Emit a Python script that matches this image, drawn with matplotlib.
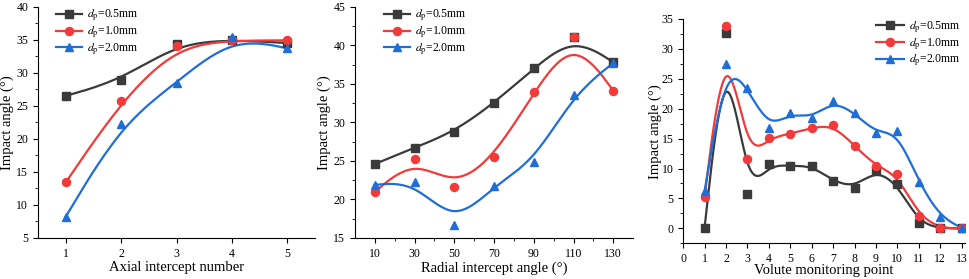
import numpy as np
import matplotlib
matplotlib.use("Agg")
from matplotlib import pyplot as plt
from matplotlib.ticker import MultipleLocator

# panel (a): axial intercept number
axial_x = [1, 2, 3, 4, 5]
axial_05 = [26.5, 28.9, 34.4, 35.0, 34.5]
axial_10 = [13.4, 25.7, 34.0, 34.9, 34.9]
axial_20 = [8.2, 22.2, 28.5, 35.4, 33.7]

# panel (b): radial intercept angle
radial_x = [10, 30, 50, 70, 90, 110, 130]
radial_05 = [24.6, 26.7, 28.8, 32.5, 37.0, 41.1, 37.8]
radial_10 = [21.0, 25.3, 21.6, 25.5, 33.9, 41.1, 34.1]
radial_20 = [21.9, 22.3, 16.7, 21.8, 24.9, 33.6, 37.7]

# panel (c): volute monitoring point
volute_x = list(range(1, 14))
volute_05 = [0.1, 32.7, 5.7, 10.7, 10.4, 10.5, 7.9, 6.8, 9.8, 7.4, 0.9, 0.0, 0.0]
volute_10 = [5.3, 33.8, 11.6, 15.1, 15.8, 16.8, 17.3, 13.8, 10.4, 9.0, 2.1, 0.0, 0.0]
volute_20 = [6.2, 27.5, 23.5, 16.7, 19.3, 18.4, 21.3, 19.3, 15.9, 16.2, 7.7, 1.9, 0.1]

labels = [r"$d_\mathrm{p}$=0.5mm", r"$d_\mathrm{p}$=1.0mm", r"$d_\mathrm{p}$=2.0mm"]
colors = ["#3a3a3a", "#f23a3a", "#1f6ed8"]
markers = ["s", "o", "^"]

plt.rcParams["font.family"] = ["Liberation Serif", "DejaVu Serif"]
plt.rcParams["mathtext.fontset"] = "stix"

# uniform cubic B-spline basis matrix
B = np.array([[-1, 3, -3, 1],
              [3, -6, 3, 0],
              [-3, 0, 3, 0],
              [1, 4, 1, 0]]) / 6.0


def bspline(x, y, num=40):
    """Uniform cubic B-spline with the data as control points,
    end points repeated so the curve starts and ends on them."""
    pts = np.column_stack([x, y]).astype(float)
    pts = np.vstack([pts[:1], pts[:1], pts, pts[-1:], pts[-1:]])
    s = np.linspace(0, 1, num)
    S = np.column_stack([s ** 3, s ** 2, s, np.ones_like(s)])
    segs = [S @ B @ pts[i:i + 4] for i in range(len(pts) - 3)]
    curve = np.vstack(segs)
    return curve[:, 0], curve[:, 1]


def panel(ax, x, series, xlabel):
    for ys, c, m, lab in zip(series, colors, markers, labels):
        cx, cy = bspline(x, ys)
        ax.plot(cx, cy, color=c, lw=1.6, zorder=2)
        ax.plot(x, ys, ls="none", marker=m, ms=5.8, color=c, zorder=3)
        ax.plot([], [], color=c, lw=1.6, marker=m, ms=5.8, label=lab)
    ax.spines["top"].set_visible(False)
    ax.spines["right"].set_visible(False)
    ax.tick_params(which="both", direction="out", labelsize=8.5)
    ax.tick_params(which="major", length=3.5)
    ax.tick_params(which="minor", length=2)
    ax.set_xlabel(xlabel, fontsize=10.5, labelpad=1)
    ax.set_ylabel("Impact angle (°)", fontsize=10.5, labelpad=2)


def legend(ax, anchor, loc, hl):
    ax.legend(loc=loc, bbox_to_anchor=anchor, frameon=False, fontsize=8.5,
              handlelength=hl, handletextpad=0.4, labelspacing=0.12,
              borderaxespad=0.2)


fig = plt.figure(figsize=(9.69, 2.79), dpi=100)

ax1 = fig.add_axes([0.0392, 0.147, 0.286, 0.829])
panel(ax1, axial_x, [axial_05, axial_10, axial_20], "Axial intercept number")
ax1.set_xlim(0.5, 5.5)
ax1.set_ylim(5, 40)
ax1.set_xticks(axial_x)
ax1.yaxis.set_minor_locator(MultipleLocator(2.5))
legend(ax1, (0.04, 1.025), "upper left", 2.2)

ax2 = fig.add_axes([0.3664, 0.147, 0.287, 0.829])
panel(ax2, radial_x, [radial_05, radial_10, radial_20], "Radial intercept angle (°)")
ax2.set_xlim(0, 140)
ax2.set_ylim(15, 45)
ax2.set_xticks(radial_x)
ax2.set_xticks(range(20, 140, 20), minor=True)
ax2.yaxis.set_minor_locator(MultipleLocator(2.5))
legend(ax2, (0.08, 1.025), "upper left", 2.2)

ax3 = fig.add_axes([0.705, 0.128, 0.2907, 0.804])
panel(ax3, volute_x, [volute_05, volute_10, volute_20], "Volute monitoring point")
ax3.set_xlim(0, 13.15)
ax3.set_ylim(-2.5, 35)
ax3.set_xticks(range(0, 14))
ax3.set_yticks(range(0, 36, 5))
ax3.yaxis.set_minor_locator(MultipleLocator(2.5))
ax3.xaxis.labelpad = -1
ax3.yaxis.labelpad = 0
legend(ax3, (1.01, 1.03), "upper right", 2.4)

fig.savefig("out.png", dpi=100)
